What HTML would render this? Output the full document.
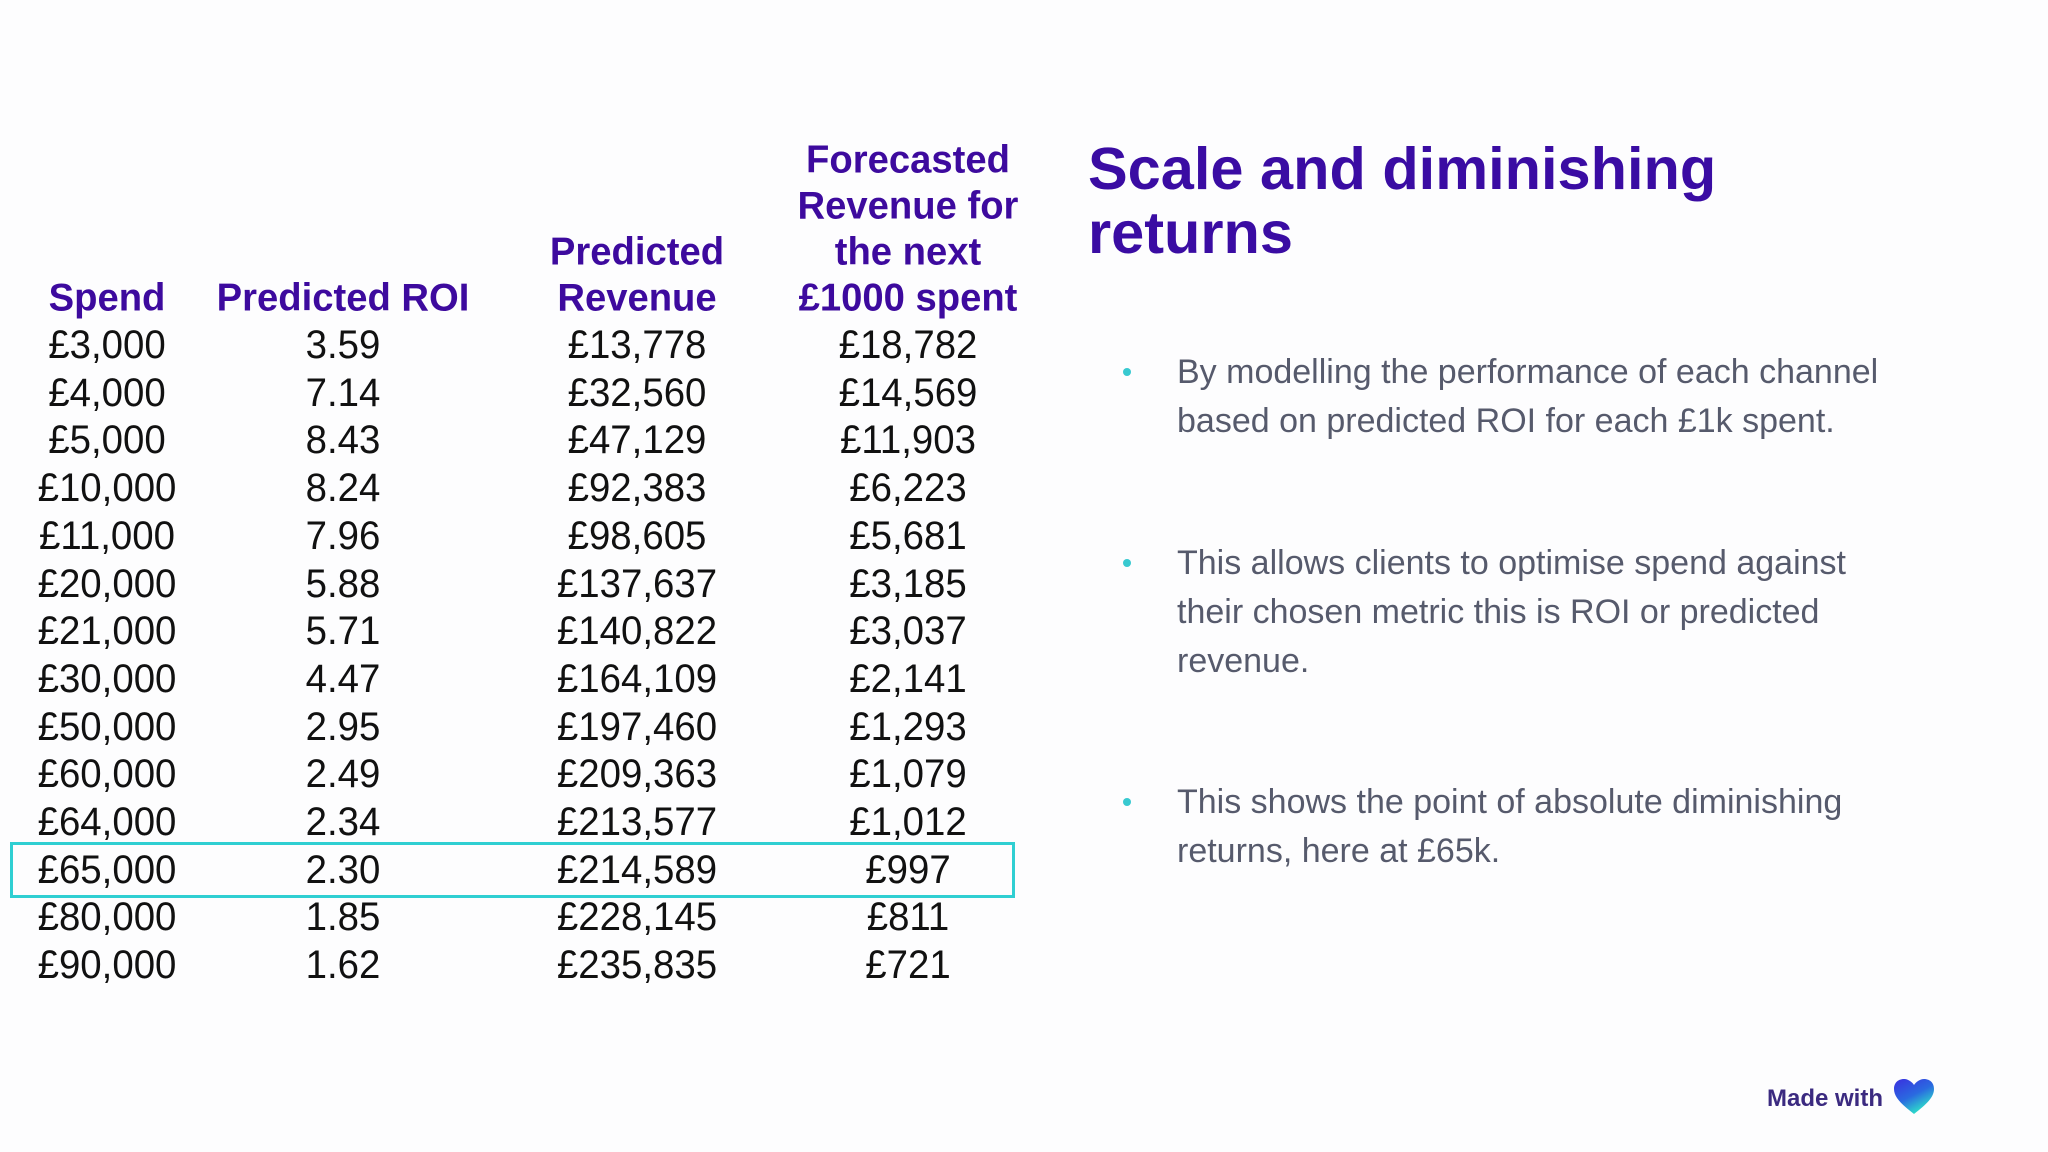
<!DOCTYPE html>
<html><head><meta charset="utf-8">
<style>
body{margin:0;width:2048px;height:1152px;background:#fdfdfe;position:relative;overflow:hidden;font-family:"Liberation Sans",sans-serif}
.c{position:absolute;transform:translate(-50%,-50%) scaleX(0.96);white-space:nowrap;font-family:"Liberation Sans Narrow","Liberation Sans",sans-serif;font-size:40px;color:#111;line-height:1}
.h{color:#3d0a9e;font-weight:bold;font-size:39px;transform:translate(-50%,-50%) scaleX(0.98)}
#title{position:absolute;left:1088px;top:137px;font-size:59.5px;font-weight:bold;color:#3a0ca3;line-height:64px}
.b{position:absolute;left:1177px;width:720px;font-size:34px;color:#565a6c;line-height:49px}
.dot{position:absolute;width:8px;height:8px;border-radius:50%;background:#38c9d0}
#box{position:absolute;left:10px;top:842px;width:999px;height:50px;border:3px solid #2fcfd2}
#made{position:absolute;left:1767px;top:1085px;font-size:24px;font-weight:bold;color:#3b2a80}
</style></head><body>
<div id="box"></div>
<div id="title">Scale and diminishing<br>returns</div>
<div class="dot" style="left:1123px;top:368px"></div>
<div class="b" style="top:348px">By modelling the performance of each channel based on predicted ROI for each £1k spent.</div>
<div class="dot" style="left:1123px;top:559px"></div>
<div class="b" style="top:539px">This allows clients to optimise spend against their chosen metric this is ROI or predicted revenue.</div>
<div class="dot" style="left:1123px;top:798px"></div>
<div class="b" style="top:778px">This shows the point of absolute diminishing returns, here at £65k.</div>
<div id="made">Made with</div>
<svg style="position:absolute;left:1893px;top:1078px" width="42" height="38" viewBox="0 0 42 38">
<defs><linearGradient id="g" x1="0" y1="0" x2="0.6" y2="1"><stop offset="0" stop-color="#3a2fe0"/><stop offset="0.55" stop-color="#2a6ae0"/><stop offset="1" stop-color="#2de8c8"/></linearGradient></defs>
<path d="M21 36 C8 26 1 19 1 11 C1 4 6 1 11 1 C15 1 19 4 21 7 C23 4 27 1 31 1 C36 1 41 4 41 11 C41 19 34 26 21 36Z" fill="url(#g)"/></svg>
<script>
const headers=[["Spend"],["Predicted ROI"],["Predicted","Revenue"],["Forecasted","Revenue for","the next","£1000 spent"]];
const spend=["£3,000","£4,000","£5,000","£10,000","£11,000","£20,000","£21,000","£30,000","£50,000","£60,000","£64,000","£65,000","£80,000","£90,000"];
const roi=["3.59","7.14","8.43","8.24","7.96","5.88","5.71","4.47","2.95","2.49","2.34","2.30","1.85","1.62"];
const revenue=["£13,778","£32,560","£47,129","£92,383","£98,605","£137,637","£140,822","£164,109","£197,460","£209,363","£213,577","£214,589","£228,145","£235,835"];
const nextK=["£18,782","£14,569","£11,903","£6,223","£5,681","£3,185","£3,037","£2,141","£1,293","£1,079","£1,012","£997","£811","£721"];
const colX=[107,343,637,908];
const headerBottom=298, lineH=46, row0=345, rowH=47.7;
const cols=[spend,roi,revenue,nextK];
const names=["spend","roi","revenue","next-1000"];
headers.forEach((lines,ci)=>{
  lines.forEach((t,li)=>{
    const d=document.createElement('div');
    d.className='c h';
    
    
    d.style.left=colX[ci]+'px';
    d.style.top=(headerBottom-(lines.length-1-li)*lineH)+'px';
    d.textContent=t;document.body.appendChild(d);
  });
});
cols.forEach((arr,ci)=>{
  arr.forEach((t,ri)=>{
    const d=document.createElement('div');
    d.className='c';
    
    
    d.style.left=colX[ci]+'px';
    d.style.top=(row0+ri*rowH)+'px';
    d.textContent=t;document.body.appendChild(d);
  });
});
</script>
</body></html>
